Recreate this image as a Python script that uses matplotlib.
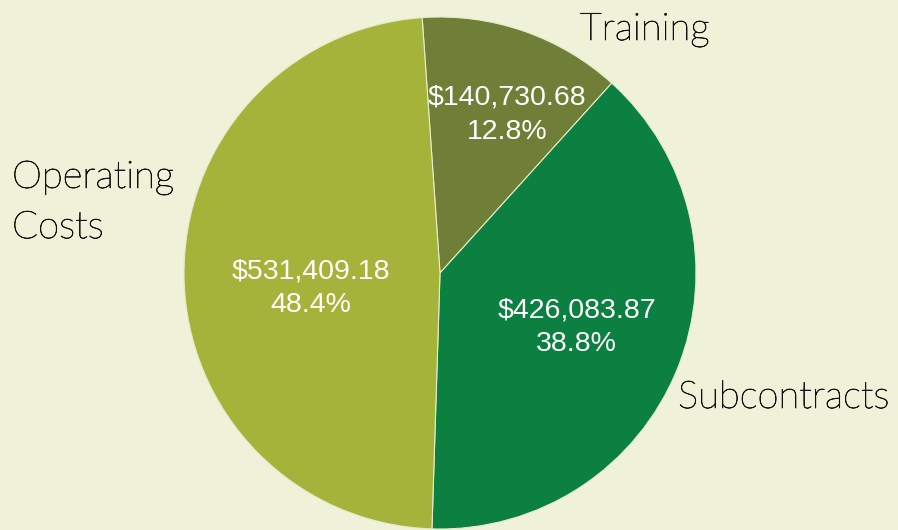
import matplotlib.pyplot as plt
import matplotlib.patheffects as pe
import numpy as np

categories = ["Training", "Subcontracts", "Operating\nCosts"]
amounts = [140730.68, 426083.87, 531409.18]
colors = ["#6f7f37", "#0b8040", "#a5b33a"]

bg = "#eff1d8"

fig = plt.figure(figsize=(8.98, 5.30), dpi=100, facecolor=bg)
ax = fig.add_axes([0, 0, 1, 1])
ax.set_facecolor(bg)

wedges, _ = ax.pie(amounts, colors=colors, startangle=94, counterclock=False,
                   radius=1, wedgeprops=dict(edgecolor="#e8ecc8", linewidth=0.8))

# pixel scale: radius = 256 px, centre at (440, 257 from bottom)
ax.set_xlim(-440 / 256, (898 - 440) / 256)
ax.set_ylim(-257 / 256, 273 / 256)
ax.set_aspect("auto")
ax.axis("off")

total = sum(amounts)
# label distance and angle nudge for each slice
inner_r = [0.672, 0.575, 0.508]
nudge = [-3.9, 0.3, 5.7]
for w, amt, r, dt in zip(wedges, amounts, inner_r, nudge):
    mid = np.deg2rad((w.theta1 + w.theta2) / 2 + dt)
    x, y = r * np.cos(mid), r * np.sin(mid)
    ax.text(x, y, "${:,.2f}\n{:.1f}%".format(amt, amt / total * 100),
            ha="center", va="center", color="white", fontsize=20.5,
            family="Liberation Sans", linespacing=1.4)

lbl_font = dict(family="Lato", fontweight="light", fontsize=27.5, color="#111111",
                path_effects=[pe.withStroke(linewidth=0.5, foreground="#111111")])
ax.text(580 / 256 - 440 / 256, (273 - 30) / 256, categories[0],
        ha="left", va="center", **lbl_font)
ax.text(678 / 256 - 440 / 256, (273 - 398) / 256, categories[1],
        ha="left", va="center", **lbl_font)
ax.text(12 / 256 - 440 / 256, (273 - 203) / 256, categories[2],
        ha="left", va="center", linespacing=1.6, **lbl_font)

fig.savefig("out.png", dpi=100, facecolor=bg)
